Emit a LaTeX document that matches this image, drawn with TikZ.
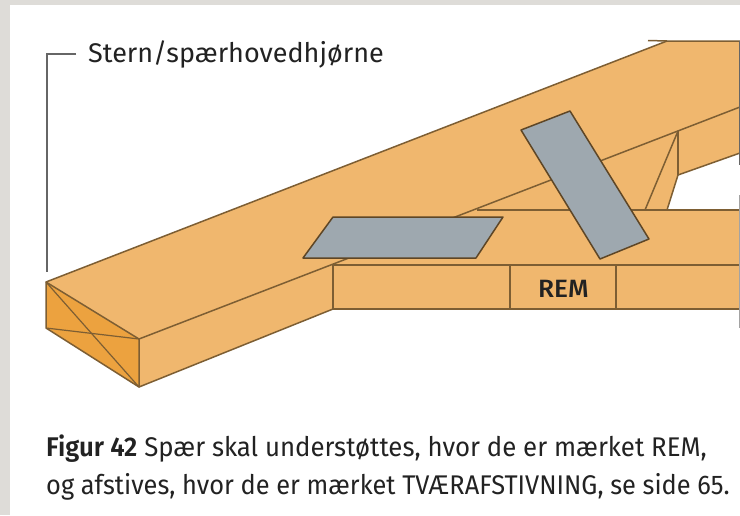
\documentclass[tikz,border=0pt]{standalone}
\usepackage{fontspec}
\setmainfont{Fira Sans}
\newfontfamily\capfont[FakeStretch=0.955,BoldFont={Fira Sans SemiBold}]{Fira Sans}
\newfontfamily\capfontb[FakeStretch=0.94]{Fira Sans}
\newfontfamily\lblfont[FakeStretch=1.0]{Fira Sans}
\newfontfamily\remfont[FakeStretch=1.05]{Fira Sans Medium}
\definecolor{wood}{HTML}{F0B76E}
\definecolor{woodend}{HTML}{ECA23F}
\definecolor{plate}{HTML}{9EA8AF}
\definecolor{edge}{HTML}{7D5E33}
\definecolor{frame}{HTML}{DEDCD8}
\definecolor{leader}{HTML}{666666}
\definecolor{inktext}{HTML}{222222}
\tikzset{
  woodline/.style={draw=edge,line width=1.5pt,line join=round},
  platebox/.style={fill=plate,draw=edge!75!black,line width=1.5pt,line join=round},
  leaderline/.style={draw=leader,line width=1.6pt},
  captext/.style={anchor=base west,inner sep=0pt,text=inktext,font=\capfont\fontsize{27}{27}\selectfont},
  captextb/.style={anchor=base west,inner sep=0pt,text=inktext,font=\capfontb\fontsize{27}{27}\selectfont},
  lbltext/.style={anchor=base west,inner sep=0pt,text=inktext,font=\lblfont\fontsize{27}{27}\selectfont}
}
\begin{document}
\begin{tikzpicture}[x=1pt,y=-1pt]
\useasboundingbox (0,0) rectangle (740,515);
\fill[white] (0,0) rectangle (740,515);
\fill[frame] (0,0) rectangle (740,5);
\fill[frame] (0,0) rectangle (10,515);
% wood body
\fill[wood] (46,282) -- (667,41) -- (740,41) -- (740,153) -- (678,175) -- (667,210) -- (740,210) -- (740,309) -- (333,309) -- (139,387) -- (46,328) -- cycle;
% end grain
\fill[woodend] (46,282) -- (139,339) -- (139,387) -- (46,328) -- cycle;
\draw[woodline] (46,282) -- (139,339) -- (139,387) -- (46,328) -- cycle;
\draw[woodline,line width=1.2pt] (46,282) -- (139,387);
\draw[woodline,line width=1.2pt] (46,328) -- (139,339);
% rafter
\draw[woodline] (46,282) -- (667,41) -- (740,41);
\draw[woodline] (648,40.5) -- (667,41);
\draw[woodline] (139,339) -- (740,107);
\draw[woodline] (139,387) -- (333,309);
% beam
\draw[woodline] (333,265) -- (333,309) -- (740,309);
\draw[woodline] (333,265) -- (740,265);
\draw[woodline] (510,265) -- (510,309);
\draw[woodline] (616,265) -- (616,309);
\draw[woodline] (477,210) -- (740,210);
% brace
\draw[woodline] (678,131) -- (645,210);
\draw[woodline] (678,131) -- (678,175);
\draw[woodline] (740,153) -- (678,175) -- (667,210);
% right edge
\draw[draw=leader,line width=1.2pt] (739.5,41) -- (739.5,165);
\draw[draw=leader!60,line width=1pt] (739.5,195) -- (739.5,328);
% plates
\draw[platebox] (303,258) -- (333,217) -- (503,217) -- (476,258) -- cycle;
\draw[platebox] (521,130) -- (570,111) -- (649,239) -- (600,259) -- cycle;
% leader
\coordinate (leaderend) at (76,54);
\coordinate (leaderknee) at (47,54);
\coordinate (leaderfoot) at (47,272);
\draw[leaderline] (leaderend) -- (leaderknee) -- (leaderfoot);
% labels
\node[lbltext] (stern) at (88,62) {Stern/spærhovedhjørne};
\node[anchor=base west,inner sep=0pt,text=inktext,font=\remfont\fontsize{25}{25}\selectfont] (rem) at (538,297) {REM};
\node[captext] (cap1) at (46,456) {\textbf{Figur 42} Spær skal understøttes, hvor de er mærket REM,};
\node[captextb] (cap2) at (46,494) {og afstives, hvor de er mærket TVÆRAFSTIVNING, se side 65.};
\end{tikzpicture}
\end{document}
